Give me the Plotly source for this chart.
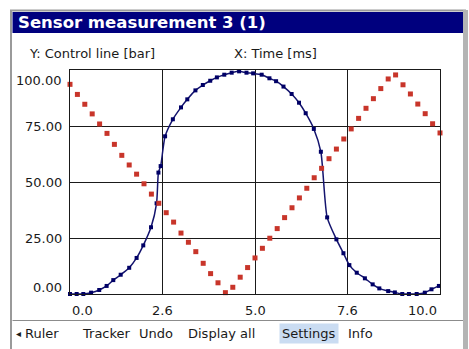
import plotly.graph_objects as go

W, H = 469, 349

# Control line (red squares), sampled every 0.2 ms
red_x = [0.0, 0.2, 0.4, 0.6, 0.8, 1.0, 1.2, 1.4, 1.6, 1.8,
         2.0, 2.2, 2.4, 2.6, 2.8, 3.0, 3.2, 3.4, 3.6, 3.8,
         4.0, 4.2, 4.4, 4.6, 4.8, 5.0, 5.2, 5.4, 5.6, 5.8,
         6.0, 6.2, 6.4, 6.6, 6.8, 7.0, 7.2, 7.4, 7.6, 7.8,
         8.0, 8.2, 8.4, 8.6, 8.8, 9.0, 9.2, 9.4, 9.6, 9.8, 10.0]
red_y = [93.6, 89.1, 84.7, 80.4, 75.9, 71.7, 66.8, 61.9, 57.6, 53.5,
         49.2, 44.6, 40.5, 36.3, 32.1, 27.2, 23.1, 18.9, 13.7, 9.1,
         5.0, 0.6, 3.0, 7.5, 11.8, 16.1, 20.4, 24.9, 29.2, 34.1,
         38.5, 42.9, 47.2, 51.9, 56.1, 60.4, 64.7, 69.2, 73.7, 78.4,
         82.9, 87.2, 91.7, 96.0, 97.8, 93.4, 89.3, 84.8, 80.5, 76.0, 71.9]

# Sensor response (navy curve with square samples)
blue_x = [0.00, 0.18, 0.36, 0.57, 0.79, 0.99, 1.17, 1.37, 1.60, 1.80,
          1.98, 2.19, 2.34, 2.39, 2.45, 2.57, 2.78, 3.00, 3.17, 3.39,
          3.59, 3.79, 3.97, 4.17, 4.37, 4.57, 4.77, 4.95, 5.18, 5.39,
          5.57, 5.77, 5.99, 6.19, 6.37, 6.59, 6.78, 6.95, 7.20, 7.39,
          7.55, 7.75, 7.97, 8.18, 8.36, 8.60, 8.78, 8.98, 9.16, 9.37,
          9.59, 9.77, 9.97]
blue_y = [0.0, 0.0, 0.0, 0.6, 1.8, 3.6, 6.2, 8.6, 11.7, 16.1,
          21.7, 29.8, 40.5, 54.2, 57.1, 70.4, 78.0, 83.3, 86.9, 90.9,
          93.3, 95.2, 96.7, 97.9, 98.8, 99.4, 98.8, 98.5, 97.9, 96.3,
          95.0, 92.6, 89.3, 85.4, 80.7, 73.7, 63.5, 34.2, 24.4, 18.2,
          12.9, 9.5, 7.0, 4.3, 2.5, 1.3, 0.7, 0.0, 0.0, 0.0,
          0.6, 2.1, 3.6]

x_tick_vals = [0, 2.5, 5, 7.5, 10]
x_tick_text = ["0.0", "2.6", "5.0", "7.6", "10.0"]
y_tick_vals = [0, 25, 50, 75, 100]
y_tick_text = ["0.00", "25.00", "50.00", "75.00", "100.00"]

title_text = "Sensor measurement 3 (1)"
y_label = "Y: Control line [bar]"
x_label = "X: Time [ms]"
menu_items = ["Ruler", "Tracker", "Undo", "Display all", "Settings", "Info"]
menu_left = [23, 80, 137, 186, 279, 346]
active_item = "Settings"

FONT = "DejaVu Sans"
INK = "#1a1a1a"


def px(x):
    return x / W


def py(y):
    return 1 - y / H


# plot rectangle in pixels
L, R, T, B = 70, 440, 70, 294

fig = go.Figure()

fig.add_trace(go.Scatter(
    x=blue_x, y=blue_y, mode="lines+markers",
    line=dict(color="#14146e", width=1.5, shape="spline", smoothing=0.6),
    marker=dict(symbol="square", size=4, color="#000066"),
    cliponaxis=False, showlegend=False, hoverinfo="skip"))

fig.add_trace(go.Scatter(
    x=red_x, y=red_y, mode="markers",
    marker=dict(symbol="square", size=5, color="#c8352a"),
    cliponaxis=False, showlegend=False, hoverinfo="skip"))

axis_common = dict(showgrid=True, gridcolor=INK, gridwidth=1,
                   showline=True, mirror=True, linecolor=INK, linewidth=1,
                   zeroline=False, showticklabels=False, ticks="",
                   fixedrange=True)

fig.update_layout(
    width=W, height=H,
    margin=dict(l=0, r=0, t=0, b=0),
    paper_bgcolor="white", plot_bgcolor="white",
    xaxis=dict(domain=[px(L), px(R)], range=[0, 10],
               tickvals=x_tick_vals, **axis_common),
    yaxis=dict(domain=[py(B), py(T)], range=[0, 100],
               tickvals=y_tick_vals, **axis_common),
)

shapes = []
# window frame
shapes.append(dict(type="rect", xref="paper", yref="paper",
                   x0=px(11), x1=px(465), y0=py(360), y1=py(10.5),
                   line=dict(color="#9a9a9a", width=2), fillcolor="rgba(0,0,0,0)",
                   layer="below"))
shapes.append(dict(type="rect", xref="paper", yref="paper",
                   x0=px(463), x1=px(468), y0=py(360), y1=py(10),
                   line=dict(width=0), fillcolor="#b4b4b4", layer="below"))
# title bar
shapes.append(dict(type="rect", xref="paper", yref="paper",
                   x0=px(12.5), x1=px(463), y0=py(33), y1=py(12),
                   line=dict(width=0), fillcolor="#00007e", layer="below"))
# menu separator
shapes.append(dict(type="line", xref="paper", yref="paper",
                   x0=px(12.5), x1=px(463), y0=py(320.5), y1=py(320.5),
                   line=dict(color="#8c8c8c", width=1)))
fig.update_layout(shapes=shapes)

ann = []
ann.append(dict(text="<b>" + title_text + "</b>", xref="paper", yref="paper",
                x=px(16), y=py(23), xanchor="left", yanchor="middle",
                showarrow=False, font=dict(family=FONT, size=16.5, color="white")))
ann.append(dict(text=y_label, xref="paper", yref="paper",
                x=px(27), y=py(53), xanchor="left", yanchor="middle",
                showarrow=False, font=dict(family=FONT, size=13, color=INK)))
ann.append(dict(text=x_label, xref="paper", yref="paper",
                x=px(232), y=py(53), xanchor="left", yanchor="middle",
                showarrow=False, font=dict(family=FONT, size=13, color=INK)))

# x tick labels, end labels pulled inside the frame
for i, (v, t) in enumerate(zip(x_tick_vals, x_tick_text)):
    shift = 0
    if i == 0:
        shift = 12
    elif i == len(x_tick_vals) - 1:
        shift = -18
    ann.append(dict(text=t, xref="x", yref="paper", x=v, y=py(310),
                    xanchor="center", yanchor="middle", xshift=shift,
                    showarrow=False, font=dict(family=FONT, size=13, color=INK)))

# y tick labels
for i, (v, t) in enumerate(zip(y_tick_vals, y_tick_text)):
    shift = 0
    if i == 0:
        shift = 7
    elif i == len(y_tick_vals) - 1:
        shift = -10
    ann.append(dict(text=t, xref="paper", yref="y", x=px(64), y=v,
                    xanchor="right", yanchor="middle", yshift=shift,
                    showarrow=False, font=dict(family=FONT, size=13, color=INK)))

# menu bar
ann.append(dict(text="◂", xref="paper", yref="paper", x=px(14), y=py(333),
                xanchor="left", yanchor="middle", showarrow=False,
                font=dict(family=FONT, size=10, color=INK)))
for item, left in zip(menu_items, menu_left):
    a = dict(text=item, xref="paper", yref="paper", x=px(left), y=py(333),
             xanchor="left", yanchor="middle", showarrow=False,
             font=dict(family=FONT, size=13, color=INK))
    if item == active_item:
        a.update(bgcolor="#cadcf2", borderpad=2)
    ann.append(a)

fig.update_layout(annotations=ann)

fig.write_html("out.html")
